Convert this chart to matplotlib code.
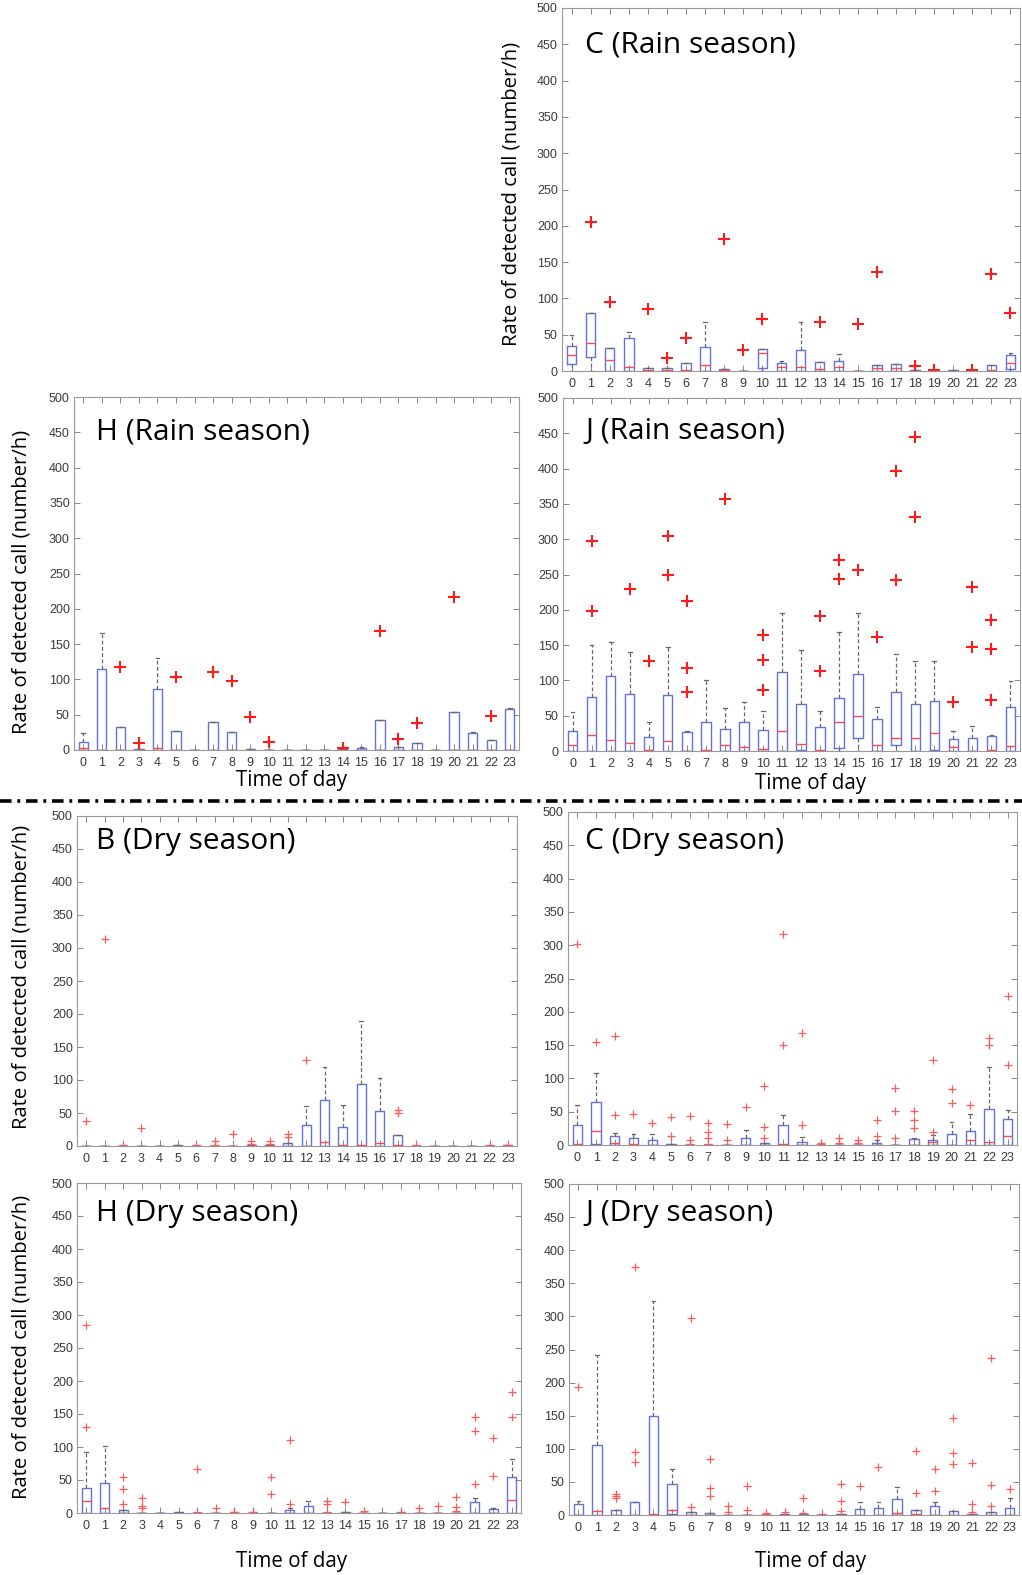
import matplotlib
matplotlib.use("Agg")
import matplotlib.pyplot as plt
from matplotlib.lines import Line2D

W, H = 1022, 1575
hours = list(range(24))
hour_labels = [str(h) for h in hours]
yticks = list(range(0, 501, 50))

# ---------------- C (Rain season) ----------------
c_rain_q1 = [10, 19, 0, 0, 0, 0, 0, 0, 0, 0, 4, 0, 0, 0, 0, 0, 0, 0, 0, 0, 0, 0, 0, 3]
c_rain_med = [22, 38, 15, 5, 1, 1, 1, 8, 1, 0, 25, 6, 6, 3, 6, 0, 4, 4, 0, 0, 0, 0, 2, 11]
c_rain_q3 = [35, 80, 32, 46, 4, 4, 11, 33, 3, 0, 30, 11, 29, 13, 14, 0, 8, 9, 1, 0, 1, 0, 8, 22]
c_rain_lo = [0] * 24
c_rain_hi = [49, 80, 32, 54, 4, 4, 11, 67, 3, 0, 30, 14, 67, 13, 24, 0, 8, 9, 1, 0, 1, 0, 8, 25]
c_rain_fliers = [[], [205], [95], [], [85], [18], [45], [], [182], [29], [72], [], [], [68], [],
                 [65], [137], [], [7], [1], [], [1], [134], [80]]

# ---------------- H (Rain season) ----------------
h_rain_q1 = [0] * 24
h_rain_med = [3, 0, 0, 0, 3, 0, 0, 0, 0, 0, 0, 0, 0, 0, 0, 0, 0, 0, 0, 0, 0, 0, 0, 0]
h_rain_q3 = [12, 115, 32, 2, 86, 27, 0, 39, 25, 1, 0, 0, 0, 0, 1, 3, 42, 4, 10, 0, 54, 24, 14, 58]
h_rain_lo = [0] * 24
h_rain_hi = [24, 166, 32, 2, 130, 27, 0, 39, 25, 1, 0, 0, 0, 0, 1, 4, 42, 4, 10, 0, 54, 26, 14, 60]
h_rain_fliers = [[], [], [118], [10], [], [104], [], [110], [98], [47], [11], [], [], [], [3], [],
                 [168], [15], [38], [], [217], [], [48], []]

# ---------------- J (Rain season) ----------------
j_rain_q1 = [0, 0, 0, 0, 0, 0, 0, 0, 0, 0, 0, 0, 2, 0, 4, 18, 0, 9, 0, 1, 0, 0, 0, 0]
j_rain_med = [9, 23, 15, 11, 2, 14, 0, 2, 9, 6, 3, 28, 10, 2, 41, 49, 9, 18, 19, 25, 5, 0, 1, 7]
j_rain_q3 = [29, 77, 106, 81, 20, 79, 27, 41, 31, 41, 30, 112, 66, 34, 75, 109, 46, 83, 66, 71, 17, 18, 21, 62]
j_rain_lo = [0] * 24
j_rain_hi = [55, 150, 155, 140, 41, 147, 28, 100, 61, 69, 57, 195, 143, 57, 168, 195, 63, 137, 127, 128, 28, 36, 22, 99]
j_rain_fliers = [[], [198, 297], [], [229], [128], [250, 305], [83, 118, 212], [], [357], [],
                 [87, 129, 164], [], [], [114, 191], [243, 270], [257], [162], [242, 396],
                 [332, 445], [], [70], [148, 232], [72, 145, 186], []]

# ---------------- B (Dry season) ----------------
b_dry_q1 = [0] * 24
b_dry_med = [0, 0, 0, 0, 0, 0, 0, 0, 0, 0, 0, 0, 0, 6, 2, 2, 5, 1, 0, 0, 0, 0, 0, 0]
b_dry_q3 = [0, 0, 0, 0, 0, 1, 0, 0, 0, 1, 1, 5, 32, 70, 29, 94, 53, 17, 0, 0, 0, 0, 0, 1]
b_dry_lo = [0] * 24
b_dry_hi = [0, 0, 0, 0, 0, 1, 0, 0, 0, 1, 1, 5, 60, 120, 62, 190, 103, 17, 0, 0, 0, 0, 0, 1]
b_dry_fliers = [[38], [313], [1], [27], [], [], [1], [2, 7], [18], [3, 7], [3, 8], [13, 18], [130],
                [], [], [], [], [50, 54], [2], [], [], [], [1], [2]]

# ---------------- C (Dry season) ----------------
c_dry_q1 = [0, 1, 0, 0, 0, 0, 0, 0, 0, 0, 0, 0, 0, 0, 0, 0, 0, 0, 0, 0, 0, 0, 0, 0]
c_dry_med = [1, 21, 3, 2, 0, 0, 0, 0, 0, 0, 0, 2, 0, 0, 0, 0, 0, 0, 0, 5, 0, 8, 5, 13]
c_dry_q3 = [30, 64, 14, 10, 8, 1, 0, 0, 0, 10, 3, 30, 5, 0, 0, 0, 3, 0, 9, 7, 17, 21, 54, 39]
c_dry_lo = [0] * 24
c_dry_hi = [60, 108, 18, 17, 17, 1, 0, 0, 0, 23, 3, 45, 12, 0, 0, 0, 8, 0, 10, 15, 35, 47, 117, 52]
c_dry_fliers = [[302], [155], [45, 163], [47], [33], [14, 42], [2, 7, 44], [2, 10, 20, 33], [7, 31],
                [57], [11, 27, 88], [150, 317], [30, 168], [1, 3], [3, 11], [3, 8], [13, 38],
                [10, 51, 86], [26, 38, 51], [19, 128], [63, 84], [60], [150, 160], [120, 223]]

# ---------------- H (Dry season) ----------------
h_dry_q1 = [0] * 24
h_dry_med = [18, 7, 0, 0, 0, 0, 0, 0, 0, 0, 0, 0, 0, 0, 0, 0, 0, 0, 0, 0, 0, 0, 0, 20]
h_dry_q3 = [38, 45, 5, 0, 0, 1, 0, 0, 0, 0, 0, 5, 10, 0, 1, 0, 0, 0, 0, 0, 0, 17, 6, 55]
h_dry_lo = [0] * 24
h_dry_hi = [93, 102, 5, 0, 0, 1, 0, 0, 0, 0, 0, 8, 18, 0, 1, 0, 0, 0, 0, 0, 0, 22, 8, 82]
h_dry_fliers = [[130, 285], [], [13, 36, 54], [7, 11, 23], [], [], [1, 66], [7], [1, 2], [1, 2],
                [29, 54], [13, 110], [], [1, 13, 18], [17], [3], [], [1, 2], [7], [10],
                [3, 9, 25], [44, 124, 146], [56, 113], [146, 183]]

# ---------------- J (Dry season) ----------------
j_dry_q1 = [0, 0, 0, 0, 0, 2, 0, 0, 0, 0, 0, 0, 0, 0, 0, 0, 0, 0, 0, 0, 0, 0, 0, 0]
j_dry_med = [0, 6, 0, 0, 1, 8, 0, 0, 0, 0, 0, 0, 0, 0, 0, 0, 0, 3, 1, 0, 0, 0, 0, 0]
j_dry_q3 = [17, 105, 7, 19, 150, 47, 4, 3, 0, 0, 0, 1, 1, 0, 1, 9, 11, 24, 7, 13, 6, 1, 5, 11]
j_dry_lo = [0] * 24
j_dry_hi = [21, 241, 7, 19, 324, 70, 4, 3, 0, 0, 0, 1, 1, 0, 1, 19, 20, 43, 7, 19, 6, 1, 5, 25]
j_dry_fliers = [[193], [], [25, 28, 31], [80, 95, 374], [], [], [12, 297], [28, 41, 85], [5, 13],
                [8, 44], [1, 3], [5], [3, 25], [1], [6, 21, 47], [44], [72], [], [33, 97],
                [36, 70], [77, 94, 146], [4, 17, 79], [13, 46, 237], [40]]

TEXT_FONT = ["Open Sans", "DejaVu Sans"]
TICK_FONT = ["Liberation Sans", "DejaVu Sans"]


def make_stats(q1, med, q3, lo, hi, fl):
    return [dict(q1=a, med=b, q3=c, whislo=d, whishi=e, fliers=f)
            for a, b, c, d, e, f in zip(q1, med, q3, lo, hi, fl)]


def add_panel(fig, box_px, title, data, rain):
    l, t, r, b = box_px
    ax = fig.add_axes([l / W, 1 - b / H, (r - l) / W, (b - t) / H])
    stats = make_stats(*data)
    if rain:
        fprops = dict(marker="+", markeredgecolor="#ff1a1a", markersize=8, markeredgewidth=1.5,
                      linestyle="none")
    else:
        fprops = dict(marker="+", markeredgecolor="#ff5a5a", markersize=6, markeredgewidth=0.9,
                      linestyle="none")
    ax.bxp(stats, positions=hours, widths=0.5, showfliers=True,
           boxprops=dict(color="#6274dc", linewidth=1.0),
           medianprops=dict(color="#ff4a4a", linewidth=1.0),
           whiskerprops=dict(color="#666666", linewidth=0.9, linestyle=(0, (3, 2))),
           capprops=dict(color="#666666", linewidth=0.9),
           capwidths=0.2,
           flierprops=fprops)
    ax.set_xlim(-0.5, 23.5)
    ax.set_ylim(0, 500)
    ax.set_xticks(hours)
    ax.set_xticklabels(hour_labels, fontfamily=TICK_FONT)
    ax.set_yticks(yticks)
    ax.set_yticklabels([str(v) for v in yticks], fontfamily=TICK_FONT)
    ax.tick_params(direction="in", length=4, width=0.7, color="#888888", top=True, right=True,
                   labelsize=9, labelcolor="#3a3a3a")
    ax.tick_params(axis="x", pad=5)
    ax.tick_params(axis="y", pad=3)
    for s in ax.spines.values():
        s.set_color("#999999")
        s.set_linewidth(0.8)
    return ax


def ftext(fig, x, y, s, **kw):
    fig.text(x / W, 1 - y / H, s, **kw)


fig = plt.figure(figsize=(W / 100, H / 100), dpi=100)

panels = [
    ((562, 8, 1020, 371), "C (Rain season)",
     (c_rain_q1, c_rain_med, c_rain_q3, c_rain_lo, c_rain_hi, c_rain_fliers), True),
    ((74, 397, 519, 750), "H (Rain season)",
     (h_rain_q1, h_rain_med, h_rain_q3, h_rain_lo, h_rain_hi, h_rain_fliers), True),
    ((563, 398, 1020, 751), "J (Rain season)",
     (j_rain_q1, j_rain_med, j_rain_q3, j_rain_lo, j_rain_hi, j_rain_fliers), True),
    ((77, 816, 517, 1146), "B (Dry season)",
     (b_dry_q1, b_dry_med, b_dry_q3, b_dry_lo, b_dry_hi, b_dry_fliers), False),
    ((568, 812, 1017, 1145), "C (Dry season)",
     (c_dry_q1, c_dry_med, c_dry_q3, c_dry_lo, c_dry_hi, c_dry_fliers), False),
    ((77, 1183, 521, 1513), "H (Dry season)",
     (h_dry_q1, h_dry_med, h_dry_q3, h_dry_lo, h_dry_hi, h_dry_fliers), False),
    ((569, 1184, 1019, 1515), "J (Dry season)",
     (j_dry_q1, j_dry_med, j_dry_q3, j_dry_lo, j_dry_hi, j_dry_fliers), False),
]

title_pos = [(585, 45), (96, 432), (585, 432), (96, 841), (585, 841), (96, 1213), (585, 1213)]

for (box, title, data, rain), (tx, ty) in zip(panels, title_pos):
    add_panel(fig, box, title, data, rain)
    ftext(fig, tx, ty, title, fontsize=21.5, family=TEXT_FONT, ha="left", va="center", color="black")

ylab = "Rate of detected call (number/h)"
for (x, y) in [(511, 194), (22, 582), (22, 977), (22, 1347)]:
    ftext(fig, x, y, ylab, fontsize=14.6, family=TEXT_FONT, rotation=90, ha="center", va="center")

for (x, y) in [(291, 781), (810, 784), (291, 1561), (810, 1561)]:
    ftext(fig, x, y, "Time of day", fontsize=14.8, family=TEXT_FONT, ha="center", va="center")

sep = Line2D([0, 1], [1 - 801 / H, 1 - 801 / H], transform=fig.transFigure, color="black",
             linewidth=2.6, linestyle=(0, (3.2, 1.6, 0.8, 1.6)))
fig.add_artist(sep)

fig.savefig("out.png", dpi=100)
